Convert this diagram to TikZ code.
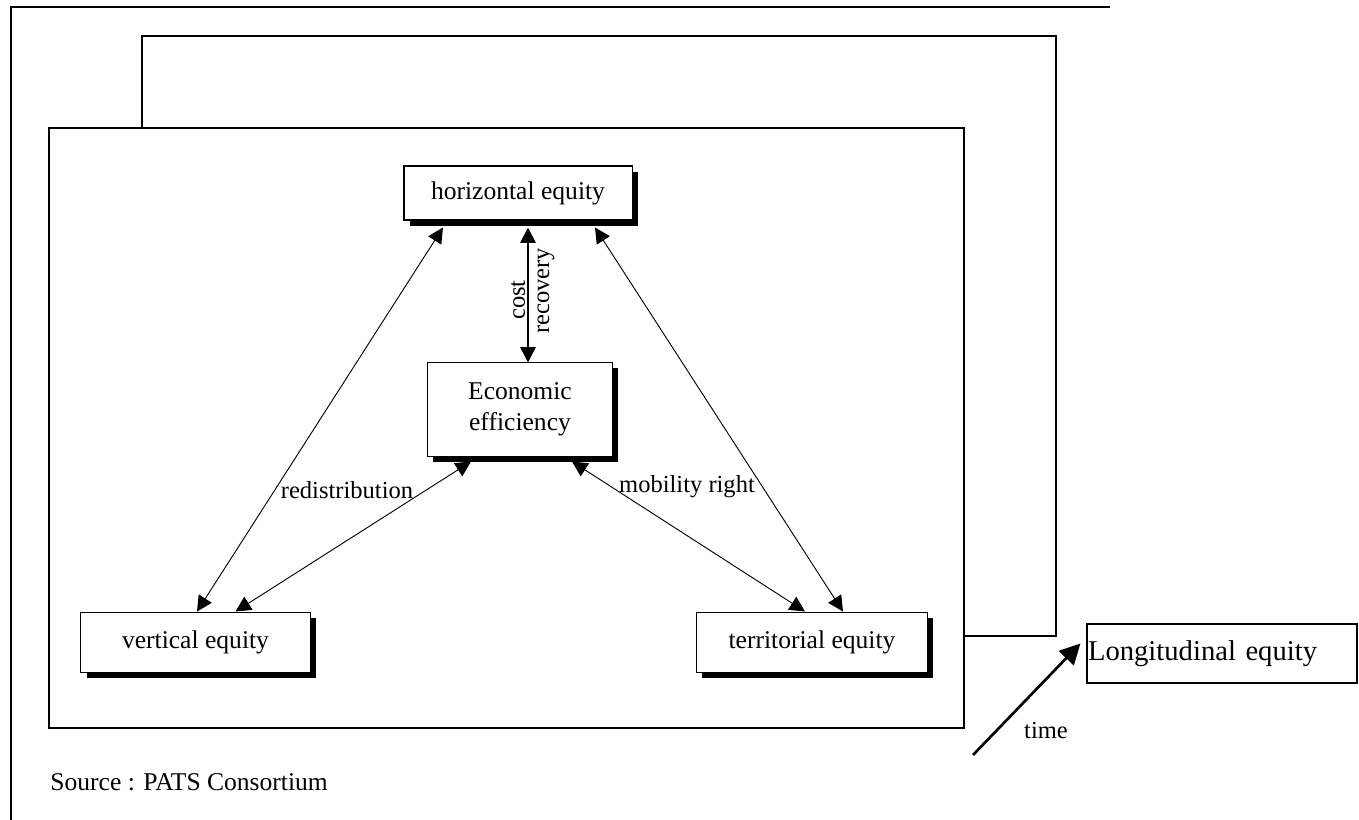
\documentclass[tikz,border=0pt]{standalone}
\usepackage{fontspec}
\setmainfont{Liberation Serif}
\usepackage{tikz}
\usetikzlibrary{arrows.meta,calc,positioning,shadows}

\tikzset{
  eqbox/.style={draw,line width=0.5pt,fill=white,align=center,inner sep=0pt,
    font=\fontsize{12.5}{15}\selectfont,
    drop shadow={shadow xshift=2.7pt,shadow yshift=-2.7pt,fill=black,opacity=1}},
  link/.style={{Triangle[length=7.5pt,width=7.5pt]}-{Triangle[length=7.5pt,width=7.5pt]},line width=0.45pt},
}

\begin{document}
\begin{tikzpicture}[x=0.489pt,y=-0.489pt,font=\fontsize{12}{14.5}\selectfont]
  \useasboundingbox (0,0) rectangle (1359,820);
  \draw[line width=1pt] (11,820)--(11,7)--(1110,7);
  \draw[line width=0.5pt] (142,36) rectangle (1056,636);
  \draw[line width=0.5pt,fill=white] (49,128) rectangle (964,728);

  \node[eqbox,minimum width=111.5pt,minimum height=26.4pt] (horiz) at (518,193) {horizontal equity};
  \node[eqbox,minimum width=90pt,minimum height=45.5pt] (econ) at (520,409.5) {Economic\\efficiency};
  \node[eqbox,minimum width=112pt,minimum height=29.8pt] (vert) at (195.5,642.5) {vertical equity};
  \node[eqbox,minimum width=112.5pt,minimum height=29.8pt] (terr) at (812,642.5) {territorial equity};
  \node[draw,line width=0.6pt,minimum width=132pt,minimum height=28.9pt,text width=131pt,
    inner xsep=0.5pt,align=left,font=\fontsize{14}{16}\selectfont] (longi) at (1222,653.5) {Longitudinal equity};

  \draw[link,line width=0.9pt] ($(horiz.south)+(10,7)$) -- ($(econ.north)+(8,0)$);
  \draw[link] ($(horiz.south)+(-75,7)$) -- ($(vert.north)+(1.5,0)$);
  \draw[link] ($(horiz.south)+(77,7)$) -- ($(terr.north)+(31,0)$);
  \draw[link] ($(econ.south)+(-49,5)$) -- ($(vert.north)+(40,0)$);
  \draw[link] ($(econ.south)+(52,5)$) -- ($(terr.north)+(-7,0)$);

  \node[rotate=90] (cost) at (518,300) {cost};
  \node[rotate=90] (recov) at (546,291) {recovery};
  \node (redis) at (347,490) {redistribution};
  \node (mobil) at (687,487) {mobility right};

  \coordinate (tstart) at (973,755);
  \draw[-{Triangle[length=10pt,width=10pt]},line width=1.3pt] (tstart) -- ($(longi.west)+(-6,-10)$);
  \node (time) at (1046,730) {time};
  \node[anchor=west,inner sep=0pt,font=\fontsize{12.5}{15}\selectfont] (src) at (50,782) {Source : PATS Consortium};
\end{tikzpicture}
\end{document}
